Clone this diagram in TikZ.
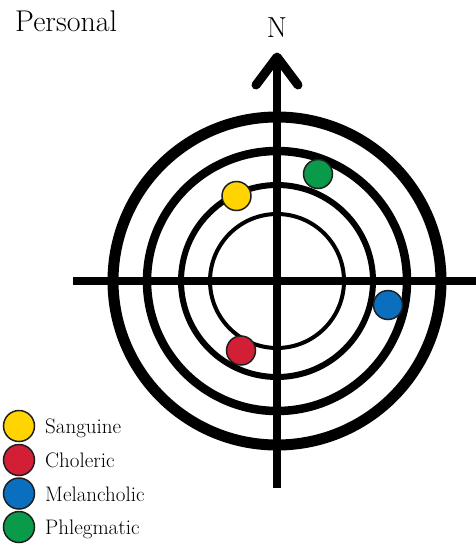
\documentclass[tikz,border=0pt]{standalone}
\usepackage{fontspec}
\definecolor{sang}{HTML}{FFD400}
\definecolor{chol}{HTML}{D21F35}
\definecolor{mela}{HTML}{0B6FC0}
\definecolor{phleg}{HTML}{0A9B4A}
\definecolor{rim}{HTML}{1E1E1E}
\begin{document}
\begin{tikzpicture}[x=1pt,y=-1pt,
  dot/.style={circle,draw=rim,line width=1.5pt,minimum size=29pt,inner sep=0pt},
  legtext/.style={anchor=base west,inner sep=0pt,font=\rmfamily\fontsize{21}{22}\selectfont},
  ring/.style={draw=black}]
\useasboundingbox (0,0) rectangle (476,546);
\coordinate (c) at (277,281);
% rings
\draw[ring,line width=11pt] (c) circle[radius=164];
\draw[ring,line width=8.5pt] (c) circle[radius=130];
\draw[ring,line width=6pt] (c) circle[radius=96];
\draw[ring,line width=4pt] (c) circle[radius=67];
% axes
\coordinate (west) at (73,281);
\coordinate (east) at (476,281);
\coordinate (top) at (277,57);
\coordinate (bottom) at (277,488);
\coordinate (armL) at (256,85);
\coordinate (armR) at (298,85);
\draw[line width=8.5pt] (west) -- (east);
\draw[line width=8.5pt] (bottom) -- (top);
\draw[line width=9pt,line cap=round,line join=round] (armL) -- (top) -- (armR);
% labels
\node[anchor=base,inner sep=0pt,font=\rmfamily\fontsize{29}{30}\selectfont] (n) at (277,37) {N};
\node[anchor=base west,inner sep=0pt,font=\rmfamily\fontsize{30}{31}\selectfont] (title) at (15,31) {Personal};
% dots on chart
\node[dot,fill=sang] (ys) at (236.5,196) {};
\node[dot,fill=phleg] (gp) at (318,174) {};
\node[dot,fill=mela] (bm) at (388,305) {};
\node[dot,fill=chol] (rc) at (241,350.5) {};
% legend
\node[dot,fill=sang,minimum size=31pt] (l1) at (19,426) {};
\node[dot,fill=chol,minimum size=31pt] (l2) at (19,460) {};
\node[dot,fill=mela,minimum size=31pt] (l3) at (19,493.5) {};
\node[dot,fill=phleg,minimum size=31pt] (l4) at (19,527) {};
\node[legtext] (t1) at (45,433.5) {Sanguine};
\node[legtext] (t2) at (45,467.5) {Choleric};
\node[legtext] (t3) at (45,501) {Melancholic};
\node[legtext] (t4) at (45,534.5) {Phlegmatic};
\end{tikzpicture}
\end{document}
